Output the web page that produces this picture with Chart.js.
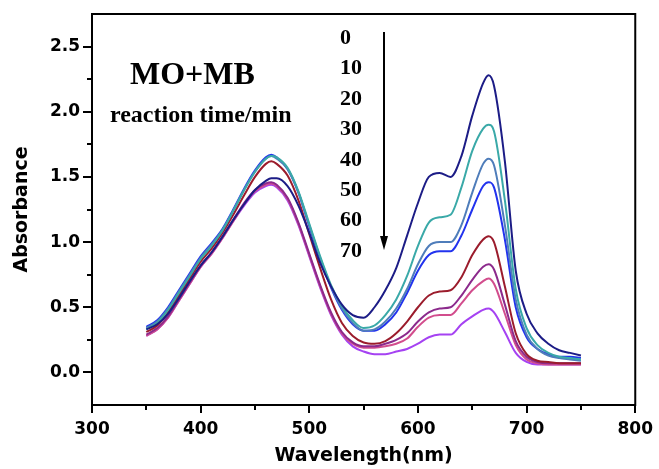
<!DOCTYPE html>
<html>
<head>
<meta charset="utf-8">
<script src="https://cdn.jsdelivr.net/npm/chart.js@4.4.1/dist/chart.umd.min.js"></script>
<style>
  html, body { margin: 0; padding: 0; background: #fff; }
  #wrap { width: 659px; height: 469px; }
</style>
</head>
<body>
<div id="wrap"><canvas id="spectra"></canvas></div>
<script>
// UV-vis spectra of the MO+MB mixture, sampled every 10 nm (plus the two band maxima)
const wavelengths = [350, 360, 370, 380, 390, 400, 410, 420, 430, 440, 450, 460, 465, 470, 480, 490,
  500, 510, 520, 530, 540, 550, 560, 570, 580, 590, 600, 610, 620, 630, 640, 650, 660, 665, 670,
  680, 690, 700, 710, 720, 730, 740, 750];

const times = [0, 10, 20, 30, 40, 50, 60, 70];

const abs0 = [0.33, 0.37, 0.45, 0.57, 0.70, 0.82, 0.92, 1.04, 1.17, 1.29, 1.40, 1.47, 1.49, 1.49, 1.43, 1.28,
  1.07, 0.84, 0.66, 0.52, 0.44, 0.42, 0.50, 0.63, 0.80, 1.05, 1.30, 1.50, 1.53, 1.50, 1.66, 1.97, 2.22, 2.28, 2.20,
  1.62, 0.78, 0.45, 0.30, 0.22, 0.17, 0.15, 0.13];
const abs10 = [0.33, 0.38, 0.48, 0.61, 0.74, 0.87, 0.97, 1.09, 1.24, 1.40, 1.54, 1.64, 1.66, 1.65, 1.57, 1.39,
  1.14, 0.89, 0.67, 0.51, 0.40, 0.34, 0.36, 0.44, 0.56, 0.74, 0.97, 1.15, 1.19, 1.21, 1.42, 1.70, 1.87, 1.90, 1.85,
  1.32, 0.64, 0.34, 0.21, 0.15, 0.12, 0.11, 0.10];
const abs20 = [0.34, 0.39, 0.49, 0.62, 0.75, 0.88, 0.98, 1.09, 1.24, 1.40, 1.54, 1.64, 1.66, 1.64, 1.56, 1.38,
  1.13, 0.88, 0.66, 0.49, 0.38, 0.32, 0.33, 0.39, 0.49, 0.64, 0.83, 0.97, 1.00, 1.00, 1.13, 1.38, 1.60, 1.64, 1.59,
  1.13, 0.56, 0.29, 0.18, 0.13, 0.11, 0.10, 0.09];
const abs30 = [0.35, 0.40, 0.50, 0.63, 0.76, 0.89, 0.99, 1.10, 1.25, 1.41, 1.55, 1.65, 1.67, 1.65, 1.56, 1.38,
  1.12, 0.87, 0.65, 0.48, 0.37, 0.32, 0.32, 0.37, 0.46, 0.61, 0.78, 0.90, 0.93, 0.93, 1.05, 1.25, 1.43, 1.46, 1.42,
  1.02, 0.50, 0.27, 0.18, 0.14, 0.12, 0.12, 0.11];
const abs40 = [0.31, 0.36, 0.46, 0.59, 0.72, 0.85, 0.95, 1.07, 1.21, 1.36, 1.50, 1.60, 1.62, 1.60, 1.51, 1.32,
  1.06, 0.80, 0.56, 0.38, 0.28, 0.23, 0.22, 0.24, 0.30, 0.39, 0.50, 0.59, 0.62, 0.63, 0.73, 0.90, 1.02, 1.045, 1.00,
  0.66, 0.30, 0.14, 0.09, 0.08, 0.07, 0.07, 0.07];
const abs50 = [0.29, 0.34, 0.43, 0.56, 0.69, 0.82, 0.92, 1.04, 1.17, 1.30, 1.40, 1.45, 1.46, 1.44, 1.34, 1.15,
  0.91, 0.67, 0.46, 0.31, 0.23, 0.20, 0.20, 0.22, 0.25, 0.30, 0.39, 0.46, 0.49, 0.50, 0.59, 0.71, 0.81, 0.83, 0.79,
  0.52, 0.24, 0.12, 0.08, 0.07, 0.07, 0.07, 0.07];
const abs60 = [0.28, 0.33, 0.42, 0.55, 0.68, 0.81, 0.91, 1.03, 1.16, 1.29, 1.39, 1.44, 1.45, 1.43, 1.33, 1.14,
  0.90, 0.66, 0.45, 0.30, 0.22, 0.19, 0.19, 0.20, 0.22, 0.26, 0.35, 0.42, 0.44, 0.44, 0.53, 0.63, 0.70, 0.72, 0.68,
  0.45, 0.21, 0.10, 0.07, 0.06, 0.06, 0.06, 0.06];
const abs70 = [0.28, 0.33, 0.42, 0.55, 0.68, 0.81, 0.91, 1.03, 1.16, 1.28, 1.38, 1.43, 1.44, 1.42, 1.32, 1.13,
  0.89, 0.65, 0.44, 0.29, 0.20, 0.16, 0.14, 0.14, 0.16, 0.18, 0.22, 0.27, 0.29, 0.29, 0.37, 0.43, 0.48, 0.49, 0.46,
  0.31, 0.15, 0.08, 0.06, 0.06, 0.06, 0.06, 0.06];

const xTicks = [300, 400, 500, 600, 700, 800];
const xMinor = [350, 450, 550, 650, 750];
const yTicks = [0, 0.5, 1, 1.5, 2, 2.5];
const yMinor = [0.25, 0.75, 1.25, 1.75, 2.25];

const series = [abs0, abs10, abs20, abs30, abs40, abs50, abs60, abs70];
const lineColors = ['#1c1c86', '#3aa9a8', '#4f7dba', '#2233ee', '#9b1c2c', '#8c2a8c', '#d24d8d', '#a542f2'];

const datasets = series.map((vals, i) => ({
  label: times[i] + ' min',
  data: wavelengths.map((w, j) => ({ x: w, y: vals[j] })),
  borderColor: lineColors[i],
  borderWidth: 2,
  pointRadius: 0,
  fill: false,
  cubicInterpolationMode: 'monotone'
}));

const axisFont = { family: '"DejaVu Sans", sans-serif', size: 17, weight: 'bold' };
const titleFont = { family: '"DejaVu Sans", sans-serif', size: 19, weight: 'bold' };

// box frame, minor ticks and the in-plot annotations
const decorations = {
  id: 'decorations',
  afterDraw(chart) {
    const { ctx, chartArea: a, scales } = chart;
    ctx.save();
    ctx.strokeStyle = '#000';
    ctx.lineWidth = 2;
    ctx.strokeRect(a.left, a.top, a.right - a.left, a.bottom - a.top);

    ctx.beginPath();
    xMinor.forEach(v => {
      const px = Math.round(scales.x.getPixelForValue(v));
      ctx.moveTo(px, a.bottom);
      ctx.lineTo(px, a.bottom + 5);
    });
    yMinor.forEach(v => {
      const py = Math.round(scales.y.getPixelForValue(v));
      ctx.moveTo(a.left, py);
      ctx.lineTo(a.left - 5, py);
    });
    ctx.stroke();

    ctx.fillStyle = '#000';
    ctx.textBaseline = 'alphabetic';
    ctx.textAlign = 'left';
    ctx.font = 'bold 32px "Liberation Serif", "Times New Roman", serif';
    ctx.fillText('MO+MB', a.left + 38, a.top + 70);
    ctx.font = 'bold 24px "Liberation Serif", "Times New Roman", serif';
    ctx.fillText('reaction time/min', a.left + 18, a.top + 108);

    // time stamps, top to bottom
    ctx.font = 'bold 22px "Liberation Serif", "Times New Roman", serif';
    times.forEach((t, i) => {
      ctx.fillText(String(t), a.left + 248, a.top + 30 + i * 30.4);
    });

    // arrow pointing down the time sequence
    const ax = a.left + 292;
    ctx.lineWidth = 2;
    ctx.beginPath();
    ctx.moveTo(ax, a.top + 18);
    ctx.lineTo(ax, a.top + 226);
    ctx.stroke();
    ctx.beginPath();
    ctx.moveTo(ax - 4, a.top + 222);
    ctx.lineTo(ax + 4, a.top + 222);
    ctx.lineTo(ax, a.top + 236);
    ctx.closePath();
    ctx.fill();
    ctx.restore();
  }
};

new Chart(document.getElementById('spectra'), {
  type: 'line',
  data: { datasets },
  options: {
    responsive: true,
    maintainAspectRatio: false,
    animation: false,
    devicePixelRatio: 1,
    layout: { padding: { top: 14, right: 21, left: 0, bottom: 0 } },
    plugins: {
      legend: { display: false },
      tooltip: { enabled: false }
    },
    scales: {
      x: {
        type: 'linear',
        min: 300,
        max: 800,
        afterBuildTicks: s => { s.ticks = xTicks.map(v => ({ value: v })); },
        afterFit: s => { s.height = 64; },
        ticks: { color: '#000', font: axisFont, padding: 6, maxRotation: 0 },
        grid: { drawOnChartArea: false, color: '#000', lineWidth: 2, tickLength: 8 },
        border: { display: true, color: '#000', width: 2 },
        title: { display: true, text: 'Wavelength(nm)', color: '#000', font: titleFont, padding: { top: 0, bottom: 2 } }
      },
      y: {
        min: -0.25,
        max: 2.75,
        afterBuildTicks: s => { s.ticks = yTicks.map(v => ({ value: v })); },
        afterFit: s => { s.width = 92; },
        ticks: { color: '#000', font: axisFont, padding: 3, callback: v => v.toFixed(1) },
        grid: { drawOnChartArea: false, color: '#000', lineWidth: 2, tickLength: 9 },
        border: { display: true, color: '#000', width: 2 },
        title: { display: true, text: 'Absorbance', color: '#000', font: titleFont, padding: { top: 11, bottom: 0 } }
      }
    }
  },
  plugins: [decorations]
});
</script>
</body>
</html>
